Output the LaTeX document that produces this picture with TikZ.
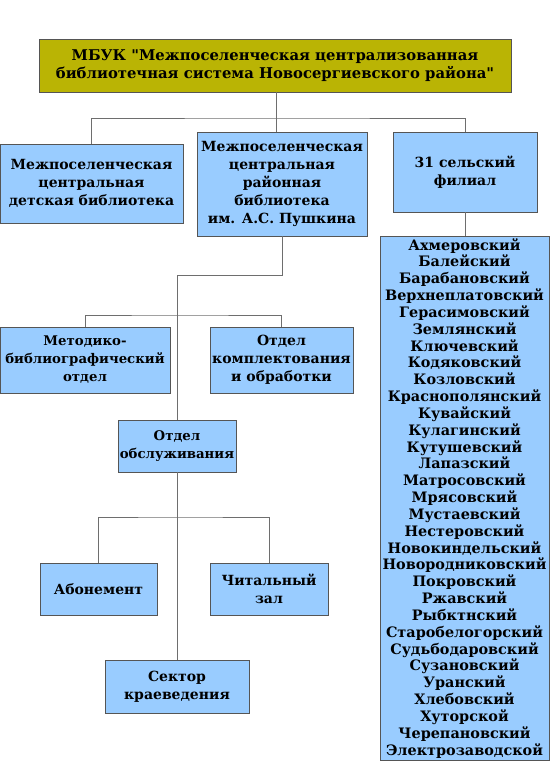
\documentclass[tikz,border=0pt]{standalone}
\usepackage{fontspec}
\setmainfont{DejaVu Serif}[Ligatures=TeXOff]
\usepackage{tikz}
\usetikzlibrary{positioning}

\definecolor{olivebox}{RGB}{186,180,4}
\definecolor{bluebox}{RGB}{153,204,255}
\definecolor{edgegray}{RGB}{85,85,85}
\definecolor{linegray}{RGB}{110,110,110}

\tikzset{
  unit/.style={draw=edgegray, fill=bluebox, line width=0.8pt, align=center,
    inner sep=1pt, font=\bfseries\fontsize{14}{18}\selectfont},
  tight/.style={font=\bfseries\fontsize{13.3}{18}\selectfont},
  link/.style={draw=linegray, line width=0.9pt}
}

\begin{document}
\begin{tikzpicture}[x=1pt,y=-1pt]
\useasboundingbox (0,0) rectangle (550,778);
% head
\node[unit, fill=olivebox, minimum width=472pt, minimum height=53pt,
  font=\bfseries\fontsize{14.8}{18}\selectfont] (mbuk) at (275,65.5)
  {МБУК "Межпоселенческая централизованная\\библиотечная система Новосергиевского района"};
% first level
\node[unit, minimum width=183pt, minimum height=79pt] (child) at (91.5,183.5)
  {Межпоселенческая\\центральная\\детская библиотека};
\node[unit, minimum width=170pt, minimum height=104pt] (central) at (282,184)
  {Межпоселенческая\\центральная\\районная\\библиотека\\им. А.С. Пушкина};
\node[unit, minimum width=144pt, minimum height=80pt] (rural) at (465,172)
  {31 сельский\\филиал};
% villages
\node[unit, text width=167pt, inner xsep=1pt, inner ysep=2pt,
  font=\bfseries\fontsize{14.4}{16.83}\selectfont, anchor=north] (list) at (464.5,236)
  {Ахмеровский\\Балейский\\Барабановский\\Верхнеплатовский\\Герасимовский\\
   Землянский\\Ключевский\\Кодяковский\\Козловский\\Краснополянский\\
   Кувайский\\Кулагинский\\Кутушевский\\Лапазский\\Матросовский\\
   Мрясовский\\Мустаевский\\Нестеровский\\Новокиндельский\\Новородниковский\\
   Покровский\\Ржавский\\Рыбктнский\\Старобелогорский\\Судьбодаровский\\
   Сузановский\\Уранский\\Хлебовский\\Хуторской\\Черепановский\\Электрозаводской};
% departments
\node[unit, tight, minimum width=170pt, minimum height=66pt] (metod) at (85,360)
  {Методико-\\библиографический\\отдел};
\node[unit, minimum width=143pt, minimum height=66pt] (kompl) at (281.5,360)
  {Отдел\\комплектования\\и обработки};
\node[unit, tight, minimum width=118pt, minimum height=52pt] (obsl) at (177,446)
  {Отдел\\обслуживания};
\node[unit, minimum width=117pt, minimum height=52pt] (abon) at (98.5,589)
  {Абонемент};
\node[unit, minimum width=118pt, minimum height=52pt] (chit) at (269,589)
  {Читальный\\зал};
\node[unit, minimum width=144pt, minimum height=53pt] (sektor) at (177,686.5)
  {Сектор\\краеведения};
% connectors
\coordinate (hub) at (276,118);
\draw[link] (mbuk.south -| hub) -- (central.north -| hub);
\draw[link] (child.north) |- (hub) -| (rural.north);
\draw[link] (rural.south) -- (list.north -| rural.south);
\coordinate (drop) at (282,275);
\draw[link] (central.south) -- (drop) -| (obsl.north);
\coordinate (split) at (177,315);
\draw[link] (metod.north) |- (split) -| (kompl.north);
\draw[link] (obsl.south) -- (sektor.north);
\coordinate (fork) at (177,517);
\draw[link] (abon.north) |- (fork) -| (chit.north);
\end{tikzpicture}
\end{document}
